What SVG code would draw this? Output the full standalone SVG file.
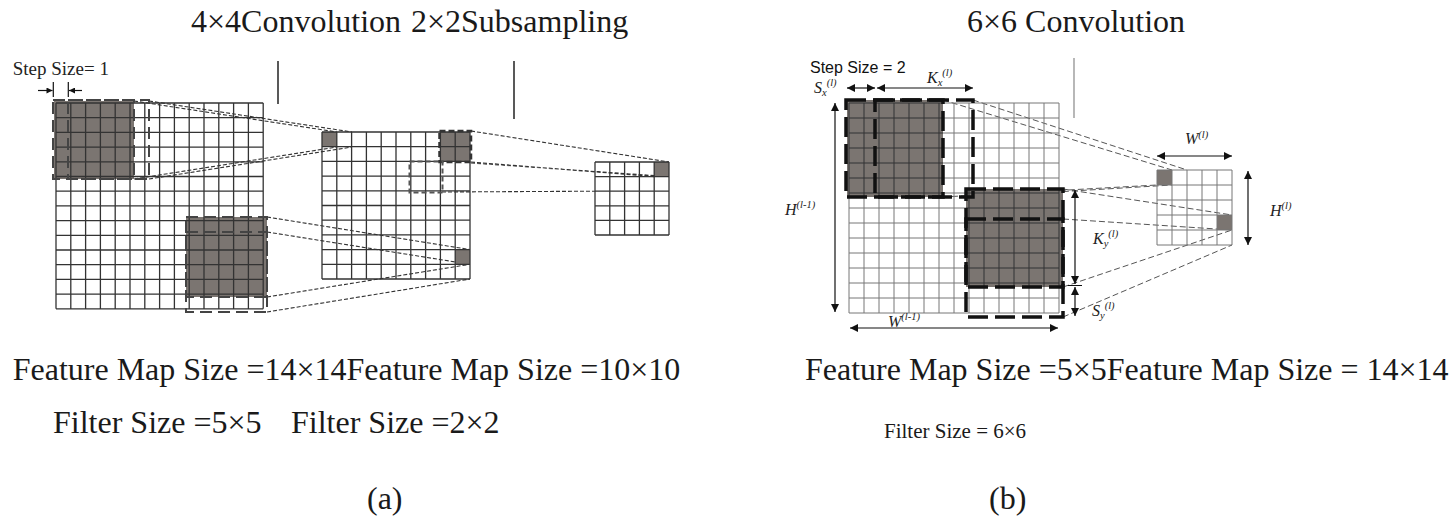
<svg xmlns="http://www.w3.org/2000/svg" width="1450" height="520" viewBox="0 0 1450 520">
<style>
.big{font-family:"Liberation Serif","Times New Roman",serif;font-size:32px;fill:#1a1a1a}
.lab{font-family:"Liberation Serif","Times New Roman",serif;font-style:italic;font-size:16px;fill:#222}
.sm{font-size:10.5px}
.ga{fill:none;stroke:#333;stroke-width:1.3}
.gb{fill:none;stroke:#777;stroke-width:1}
.gbd{fill:none;stroke:#333;stroke-width:1}
.shade{fill:#7b7571}
.fa{fill:none;stroke:#444;stroke-width:2;stroke-dasharray:12 6}
.fb{fill:none;stroke:#111;stroke-width:3.5;stroke-dasharray:20 7}
.ca{fill:none;stroke:#333;stroke-width:1.1;stroke-dasharray:4 2}
.cb{fill:none;stroke:#555;stroke-width:1;stroke-dasharray:6 3}
.arr{fill:none;stroke:#111;stroke-width:1.2}
</style>
<defs>
<marker id="ah" viewBox="0 0 10 10" refX="10" refY="5" markerWidth="9" markerHeight="8" markerUnits="userSpaceOnUse" orient="auto-start-reverse"><path d="M0,0 L10,5 L0,10 z" fill="#111"/></marker>
<marker id="ahs" viewBox="0 0 10 10" refX="10" refY="5" markerWidth="8" markerHeight="6" markerUnits="userSpaceOnUse" orient="auto-start-reverse"><path d="M0,0 L10,5 L0,10 z" fill="#111"/></marker>
<clipPath id="shB"><rect x="847" y="100" width="96" height="97"/><rect x="966" y="189" width="97" height="98"/></clipPath>
</defs>
<rect width="1450" height="520" fill="#fff"/>

<g id="connectors">
<path class="ca" d="M134 101L337 132 M149 101L352 132 M134 179L337 147 M149 179L352 147"/>
<path class="ca" d="M267 217L470 249.6 M267 232L470 264.3 M267 297L470 264.3 M267 312L470 279"/>
<path class="ca" d="M471 131L669 162 M471 162L654 176.6 M471 163L669 176.6 M442 192L595 191.2"/>
<path class="cb" d="M943 100L1172 170 M973 100L1187 170 M943 197L1157 185 M973 197L1172 185"/>
<path class="cb" d="M1063 189L1232 215 M1063 219L1232 230 M1063 287L1232 230 M1063 317L1232 245"/>
</g>

<g id="titles">
<text class="big" x="191" y="32">4×4Convolution<tspan x="411">2×2Subsampling</tspan></text>
<text class="big" x="967" y="32">6×6 Convolution</text>
<line x1="278" y1="61" x2="278" y2="104" stroke="#222" stroke-width="1.5"/>
<line x1="514" y1="61" x2="514" y2="119" stroke="#222" stroke-width="1.5"/>
<line x1="1074" y1="58" x2="1074" y2="118" stroke="#888" stroke-width="1.2"/>
</g>

<g id="step-a">
<text x="12.7" y="75" font-family="Liberation Serif, serif" font-size="19" fill="#222">Step Size= 1</text>
<line x1="53.3" y1="82" x2="53.3" y2="97" stroke="#111" stroke-width="1.2"/>
<line x1="68.3" y1="82" x2="68.3" y2="97" stroke="#111" stroke-width="1.2"/>
<line class="arr" x1="38" y1="90.5" x2="52.5" y2="90.5" marker-end="url(#ahs)"/>
<line class="arr" x1="82" y1="90.5" x2="69" y2="90.5" marker-end="url(#ahs)"/>
</g>

<g id="map-a1">
<rect class="shade" x="54" y="101" width="80" height="78"/>
<rect class="shade" x="186" y="217" width="81" height="80"/>
<path class="ga" d="M56 103V308.8M70.8 103V308.8M85.6 103V308.8M100.4 103V308.8M115.2 103V308.8M130 103V308.8M144.8 103V308.8M159.6 103V308.8M174.4 103V308.8M189.2 103V308.8M204 103V308.8M218.8 103V308.8M233.6 103V308.8M248.4 103V308.8M263.2 103V308.8M56 103H263.2M56 117.7H263.2M56 132.4H263.2M56 147.1H263.2M56 161.8H263.2M56 176.5H263.2M56 191.2H263.2M56 205.9H263.2M56 220.6H263.2M56 235.3H263.2M56 250H263.2M56 264.7H263.2M56 279.4H263.2M56 294.1H263.2M56 308.8H263.2"/>
<rect class="fa" x="53" y="100" width="81" height="79"/>
<rect class="fa" x="68" y="100" width="81" height="79"/>
<rect class="fa" x="186" y="217" width="81" height="80"/>
<rect class="fa" x="186" y="232" width="81" height="80"/>
</g>

<g id="map-a2">
<rect class="shade" x="322" y="132" width="14.8" height="14.7"/>
<rect class="shade" x="440.4" y="132" width="29.6" height="29.4"/>
<rect class="shade" x="455.2" y="249.6" width="14.8" height="14.7"/>
<path class="ga" d="M322 132V279M336.8 132V279M351.6 132V279M366.4 132V279M381.2 132V279M396 132V279M410.8 132V279M425.6 132V279M440.4 132V279M455.2 132V279M470 132V279M322 132H470M322 146.7H470M322 161.4H470M322 176.1H470M322 190.8H470M322 205.5H470M322 220.2H470M322 234.9H470M322 249.6H470M322 264.3H470M322 279H470"/>
<rect x="439.5" y="131" width="31.5" height="31" fill="none" stroke="#333" stroke-width="2.5" stroke-dasharray="6 3"/>
<rect x="409.5" y="161.5" width="33" height="31" fill="none" stroke="#555" stroke-width="2" stroke-dasharray="5 3"/>
</g>

<g id="map-a3">
<rect class="shade" x="654.2" y="162" width="14.8" height="14.6"/>
<path class="ga" d="M595 162V235M609.8 162V235M624.6 162V235M639.4 162V235M654.2 162V235M669 162V235M595 162H669M595 176.6H669M595 191.2H669M595 205.8H669M595 220.4H669M595 235H669"/>
</g>

<g id="captions-a">
<text class="big" x="12.7" y="380">Feature Map Size =14×14Feature Map Size =10×10</text>
<text class="big" x="53" y="433">Filter Size =5×5<tspan x="291">Filter Size =2×2</tspan></text>
<text class="big" x="367" y="509">(a)</text>
</g>

<g id="map-b1">
<rect class="shade" x="847" y="100" width="96" height="97"/>
<rect class="shade" x="966" y="189" width="97" height="98"/>
<path id="gridB" class="gb" d="M849 103V313M864 103V313M879 103V313M894 103V313M909 103V313M924 103V313M939 103V313M954 103V313M969 103V313M984 103V313M999 103V313M1014 103V313M1029 103V313M1044 103V313M1059 103V313M849 103H1059M849 118H1059M849 133H1059M849 148H1059M849 163H1059M849 178H1059M849 193H1059M849 208H1059M849 223H1059M849 238H1059M849 253H1059M849 268H1059M849 283H1059M849 298H1059M849 313H1059"/>
<path class="gbd" clip-path="url(#shB)" d="M849 103V313M864 103V313M879 103V313M894 103V313M909 103V313M924 103V313M939 103V313M954 103V313M969 103V313M984 103V313M999 103V313M1014 103V313M1029 103V313M1044 103V313M1059 103V313M849 103H1059M849 118H1059M849 133H1059M849 148H1059M849 163H1059M849 178H1059M849 193H1059M849 208H1059M849 223H1059M849 238H1059M849 253H1059M849 268H1059M849 283H1059M849 298H1059M849 313H1059"/>
<rect class="fb" x="846" y="100" width="97" height="97"/>
<rect class="fb" x="875" y="100" width="98" height="97"/>
<rect class="fb" x="966" y="189" width="97" height="98"/>
<rect class="fb" x="966" y="219" width="97" height="98"/>
</g>

<g id="map-b2">
<rect class="shade" x="1157" y="170" width="15" height="15"/>
<rect class="shade" x="1217" y="215" width="15" height="15"/>
<path class="gb" d="M1157 170V245M1172 170V245M1187 170V245M1202 170V245M1217 170V245M1232 170V245M1157 170H1232M1157 185H1232M1157 200H1232M1157 215H1232M1157 230H1232M1157 245H1232"/>
</g>

<g id="dims-b">
<text x="810" y="72.7" font-family="Liberation Sans, Arial, sans-serif" font-size="16" fill="#111">Step Size = 2</text>
<line class="arr" x1="847" y1="88" x2="875" y2="88" marker-start="url(#ah)" marker-end="url(#ah)"/>
<line class="arr" x1="877" y1="88" x2="973" y2="88" marker-start="url(#ah)" marker-end="url(#ah)"/>
<text class="lab" x="814" y="93">S<tspan class="sm" dy="3">x</tspan><tspan class="sm" dy="-10">(l)</tspan></text>
<text class="lab" x="927" y="83">K<tspan class="sm" dy="3">x</tspan><tspan class="sm" dy="-10">(l)</tspan></text>
<line class="arr" x1="835" y1="103" x2="835" y2="312" marker-start="url(#ah)" marker-end="url(#ah)"/>
<text class="lab" x="785" y="215">H<tspan class="sm" dy="-7">(l-1)</tspan></text>
<line class="arr" x1="850" y1="328" x2="1058" y2="328" marker-start="url(#ah)" marker-end="url(#ah)"/>
<text class="lab" x="888" y="327">W<tspan class="sm" dy="-7">(l-1)</tspan></text>
<line class="arr" x1="1075" y1="190" x2="1075" y2="284" marker-start="url(#ah)" marker-end="url(#ah)"/>
<line class="arr" x1="1075" y1="287" x2="1075" y2="316" marker-start="url(#ah)" marker-end="url(#ah)"/>
<line x1="1068" y1="285.5" x2="1082" y2="285.5" stroke="#111" stroke-width="1"/>
<text class="lab" x="1093" y="244">K<tspan class="sm" dy="3">y</tspan><tspan class="sm" dy="-10">(l)</tspan></text>
<text class="lab" x="1092" y="316">S<tspan class="sm" dy="3">y</tspan><tspan class="sm" dy="-10">(l)</tspan></text>
<line class="arr" x1="1157" y1="156" x2="1232" y2="156" marker-start="url(#ah)" marker-end="url(#ah)"/>
<text class="lab" x="1185" y="144" font-size="15">W<tspan class="sm" dy="-6">(l)</tspan></text>
<line class="arr" x1="1248" y1="171" x2="1248" y2="245" marker-start="url(#ah)" marker-end="url(#ah)"/>
<text class="lab" x="1270" y="216">H<tspan class="sm" dy="-7">(l)</tspan></text>
</g>

<g id="captions-b">
<text class="big" x="805" y="380">Feature Map Size =5×5Feature Map Size = 14×14</text>
<text x="884" y="438" font-family="Liberation Serif, serif" font-size="21" fill="#1a1a1a">Filter Size = 6×6</text>
<text class="big" x="989" y="509">(b)</text>
</g>
</svg>
